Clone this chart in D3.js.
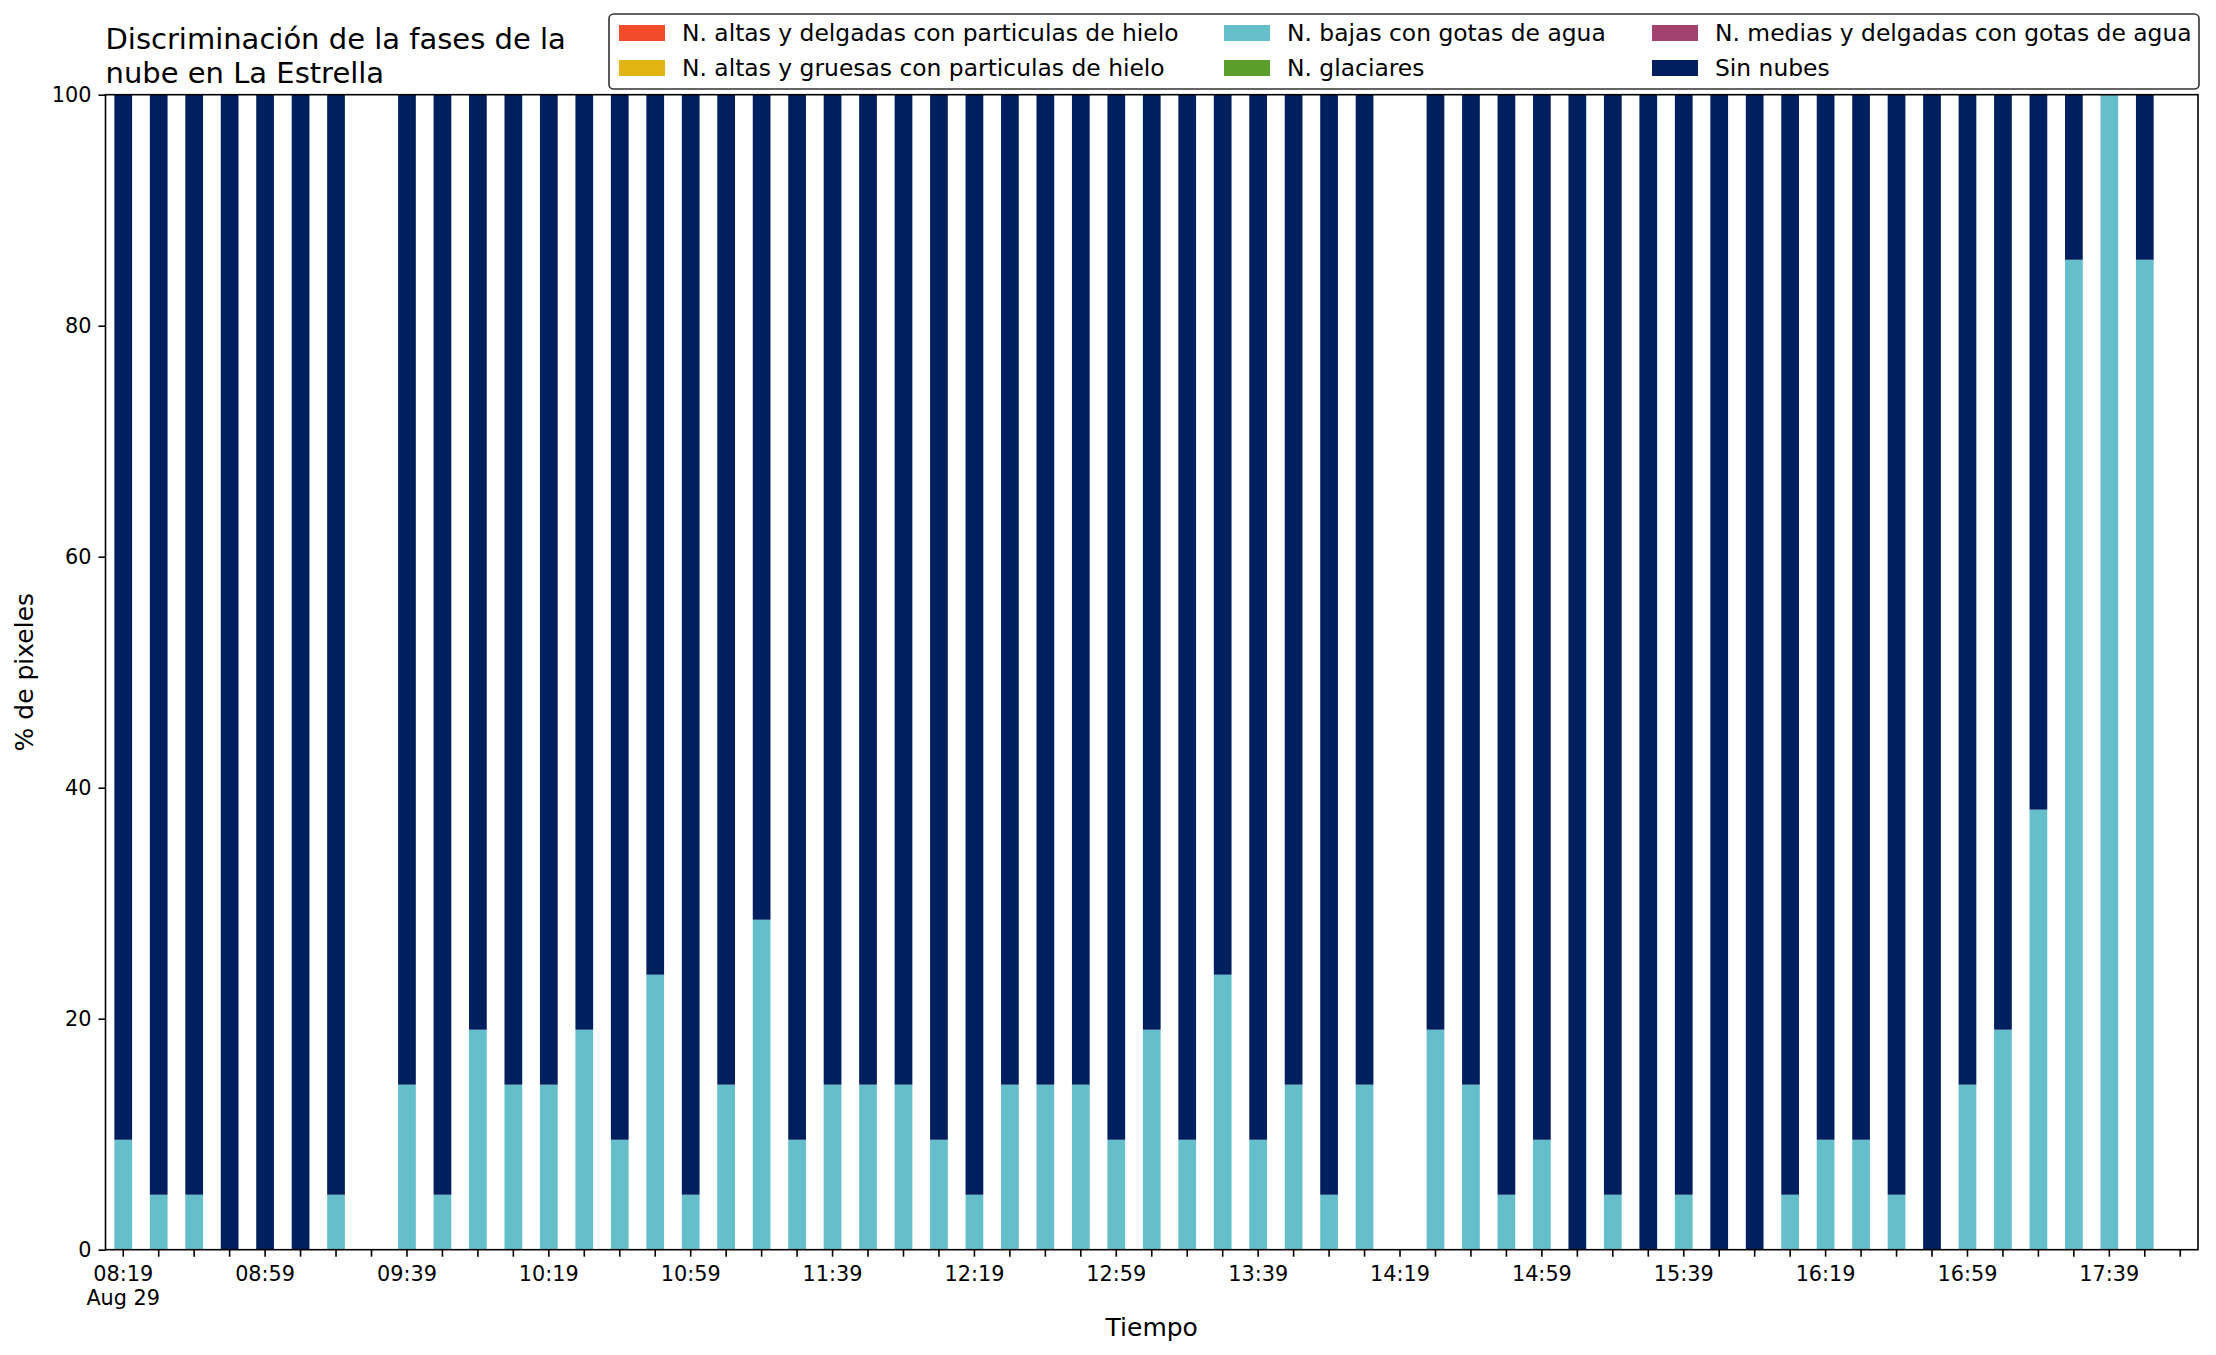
<!DOCTYPE html>
<html>
<head>
<meta charset="utf-8">
<script src="https://cdn.jsdelivr.net/npm/d3@7"></script>
<style>
  body { margin: 0; background: #fff; }
  svg { display: block; font-family: "DejaVu Sans", sans-serif; }
</style>
</head>
<body>
<div id="canvas"></div>
<script>
// categories: one bar every 10 minutes (Aug 29)
var times = ["08:19","08:29","08:39","08:49","08:59","09:09","09:19","09:29","09:39","09:49",
             "09:59","10:09","10:19","10:29","10:39","10:49","10:59","11:09","11:19","11:29",
             "11:39","11:49","11:59","12:09","12:19","12:29","12:39","12:49","12:59","13:09",
             "13:19","13:29","13:39","13:49","13:59","14:09","14:19","14:29","14:39","14:49",
             "14:59","15:09","15:19","15:29","15:39","15:49","15:59","16:09","16:19","16:29",
             "16:39","16:49","16:59","17:09","17:19","17:29","17:39","17:49","17:59"];

var tickLabels = ["08:19","08:59","09:39","10:19","10:59","11:39","12:19","12:59",
                  "13:39","14:19","14:59","15:39","16:19","16:59","17:39"];
var dateLabel = "Aug 29";
var yTicks = [0, 20, 40, 60, 80, 100];

var seriesNames = ["N. altas y delgadas con particulas de hielo",
                   "N. altas y gruesas con particulas de hielo",
                   "N. bajas con gotas de agua",
                   "N. glaciares",
                   "N. medias y delgadas con gotas de agua",
                   "Sin nubes"];
var seriesColors = ["#f24b2c", "#e3b512", "#65bfca", "#5c9e2a", "#a2436f", "#001f5f"];

// null = no data at that time
var altasDelgadas = [0,0,0,0,0,0,0,null,0,0, 0,0,0,0,0,0,0,0,0,0, 0,0,0,0,0,0,0,0,0,0,
                     0,0,0,0,0,0,null,0,0,0, 0,0,0,0,0,0,0,0,0,0, 0,0,0,0,0,0,0,0,null];
var altasGruesas  = [0,0,0,0,0,0,0,null,0,0, 0,0,0,0,0,0,0,0,0,0, 0,0,0,0,0,0,0,0,0,0,
                     0,0,0,0,0,0,null,0,0,0, 0,0,0,0,0,0,0,0,0,0, 0,0,0,0,0,0,0,0,null];
var bajas = [9.52, 4.76, 4.76, 0, 0, 0, 4.76, null, 14.29, 4.76,
             19.05, 14.29, 14.29, 19.05, 9.52, 23.81, 4.76, 14.29, 28.57, 9.52,
             14.29, 14.29, 14.29, 9.52, 4.76, 14.29, 14.29, 14.29, 9.52, 19.05,
             9.52, 23.81, 9.52, 14.29, 4.76, 14.29, null, 19.05, 14.29, 4.76,
             9.52, 0, 4.76, 0, 4.76, 0, 0, 4.76, 9.52, 9.52,
             4.76, 0, 14.29, 19.05, 38.10, 85.71, 100, 85.71, null];
var glaciares     = [0,0,0,0,0,0,0,null,0,0, 0,0,0,0,0,0,0,0,0,0, 0,0,0,0,0,0,0,0,0,0,
                     0,0,0,0,0,0,null,0,0,0, 0,0,0,0,0,0,0,0,0,0, 0,0,0,0,0,0,0,0,null];
var mediasDelgadas= [0,0,0,0,0,0,0,null,0,0, 0,0,0,0,0,0,0,0,0,0, 0,0,0,0,0,0,0,0,0,0,
                     0,0,0,0,0,0,null,0,0,0, 0,0,0,0,0,0,0,0,0,0, 0,0,0,0,0,0,0,0,null];
var sinNubes = [90.48, 95.24, 95.24, 100, 100, 100, 95.24, null, 85.71, 95.24,
                80.95, 85.71, 85.71, 80.95, 90.48, 76.19, 95.24, 85.71, 71.43, 90.48,
                85.71, 85.71, 85.71, 90.48, 95.24, 85.71, 85.71, 85.71, 90.48, 80.95,
                90.48, 76.19, 90.48, 85.71, 95.24, 85.71, null, 80.95, 85.71, 95.24,
                90.48, 100, 95.24, 100, 95.24, 100, 100, 95.24, 90.48, 90.48,
                95.24, 100, 85.71, 80.95, 61.90, 14.29, 0, 14.29, null];

var allSeries = [altasDelgadas, altasGruesas, bajas, glaciares, mediasDelgadas, sinNubes];

var width = 2216,
    height = 1355,
    plotLeft = 105.5,
    plotRight = 2198,
    plotTop = 94.7,
    plotBottom = 1249.7;

// table for d3.stack, rows without data are dropped
var rows = times.map(function(t, i) {
    var r = { time: t, missing: bajas[i] === null };
    seriesNames.forEach(function(name, k) { r[name] = allSeries[k][i] || 0; });
    return r;
});

var svg = d3.select("#canvas")
    .append("svg")
    .attr("width", width)
    .attr("height", height);

var x = d3.scaleBand()
    .domain(times)
    .range([plotLeft, plotRight])
    .paddingInner(0.5)
    .paddingOuter(0.25);

var y = d3.scaleLinear()
    .domain([0, 100])
    .range([plotBottom, plotTop]);

var stacked = d3.stack().keys(seriesNames)(rows.filter(function(r) { return !r.missing; }));

svg.selectAll("g.layer")
    .data(stacked)
    .enter()
    .append("g")
    .attr("class", "layer")
    .attr("fill", function(d, i) { return seriesColors[i]; })
    .selectAll("rect")
    .data(function(d) { return d.filter(function(p) { return p[1] - p[0] > 0; }); })
    .enter()
    .append("rect")
    .attr("x", function(d) { return x(d.data.time); })
    .attr("width", x.bandwidth())
    .attr("y", function(d) { return y(d[1]); })
    .attr("height", function(d) { return y(d[0]) - y(d[1]); });

// x axis: a tick on every bar, labels every 40 minutes
var xAxis = d3.axisBottom(x)
    .tickSizeOuter(0)
    .tickSize(7)
    .tickFormat(function(d) { return tickLabels.indexOf(d) >= 0 ? d : ""; });

var gx = svg.append("g")
    .attr("transform", "translate(0," + plotBottom + ")")
    .call(xAxis);
gx.select(".domain").remove();
gx.selectAll(".tick line").attr("stroke", "#000").attr("stroke-width", 1.6);
gx.selectAll(".tick text")
    .attr("y", 15)
    .attr("dy", "0.78em")
    .attr("fill", "#000")
    .style("font-size", "20.8px")
    .style("font-family", "DejaVu Sans");
gx.selectAll(".tick")
    .filter(function(d) { return d === tickLabels[0]; })
    .append("text")
    .attr("y", 39)
    .attr("dy", "0.78em")
    .attr("fill", "#000")
    .attr("text-anchor", "middle")
    .style("font-size", "20.8px")
    .style("font-family", "DejaVu Sans")
    .text(dateLabel);

var yAxis = d3.axisLeft(y)
    .tickValues(yTicks)
    .tickSize(7)
    .tickSizeOuter(0);

var gy = svg.append("g")
    .attr("transform", "translate(" + plotLeft + ",0)")
    .call(yAxis);
gy.select(".domain").remove();
gy.selectAll(".tick line").attr("stroke", "#000").attr("stroke-width", 1.6);
gy.selectAll(".tick text")
    .attr("x", -14)
    .attr("fill", "#000")
    .style("font-size", "20.8px")
    .style("font-family", "DejaVu Sans");

// frame
svg.append("rect")
    .attr("x", plotLeft)
    .attr("y", plotTop)
    .attr("width", plotRight - plotLeft)
    .attr("height", plotBottom - plotTop)
    .attr("fill", "none")
    .attr("stroke", "#000")
    .attr("stroke-width", 1.6);

// title, two lines, left aligned
var title = svg.append("text")
    .attr("x", plotLeft)
    .attr("y", 48.5)
    .style("font-size", "29px")
    .attr("fill", "#000");
title.append("tspan").attr("x", plotLeft).text("Discriminación de la fases de la");
title.append("tspan").attr("x", plotLeft).attr("y", 83).text("nube en La Estrella");

// axis labels
svg.append("text")
    .attr("x", (plotLeft + plotRight) / 2)
    .attr("y", 1336)
    .attr("text-anchor", "middle")
    .style("font-size", "25px")
    .text("Tiempo");

svg.append("text")
    .attr("transform", "translate(33," + ((plotTop + plotBottom) / 2) + ") rotate(-90)")
    .attr("text-anchor", "middle")
    .style("font-size", "25px")
    .text("% de pixeles");

// legend, 3 columns filled top to bottom
var legend = svg.append("g");
legend.append("rect")
    .attr("x", 609)
    .attr("y", 14)
    .attr("width", 2199 - 609)
    .attr("height", 89 - 14)
    .attr("rx", 4.6)
    .attr("fill", "#fff")
    .attr("stroke", "#333")
    .attr("stroke-width", 1.6);

var colX = [619, 1224, 1652],
    rowY = [33, 68];

var items = legend.selectAll("g.item")
    .data(seriesNames)
    .enter()
    .append("g")
    .attr("class", "item")
    .attr("transform", function(d, i) {
        return "translate(" + colX[Math.floor(i / 2)] + "," + rowY[i % 2] + ")";
    });

items.append("rect")
    .attr("x", 0)
    .attr("y", -8)
    .attr("width", 46)
    .attr("height", 16)
    .attr("fill", function(d, i) { return seriesColors[i]; });

items.append("text")
    .attr("x", 63)
    .attr("y", 8)
    .style("font-size", "23.4px")
    .attr("fill", "#000")
    .text(function(d) { return d; });
</script>
</body>
</html>
